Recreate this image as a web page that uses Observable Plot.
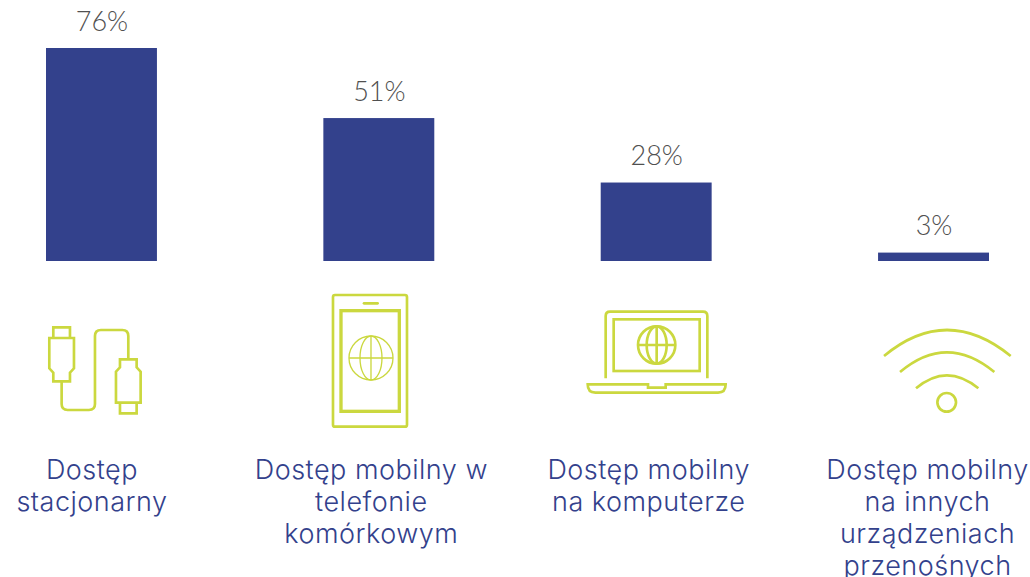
<!DOCTYPE html>
<html lang="pl">
<head>
<meta charset="utf-8">
<title>Dostęp do internetu</title>
<script src="https://cdn.jsdelivr.net/npm/d3@7"></script>
<script src="https://cdn.jsdelivr.net/npm/@observablehq/plot@0.6"></script>
<style>
  html, body { margin: 0; padding: 0; background: #fff; overflow: hidden; }
  svg { display: block; }
  .cat-label text { letter-spacing: 0.5px; }
</style>
</head>
<body>
<div id="chart"></div>
<script>
const categories = ["stacjonarny", "telefon", "komputer", "inne"];
const values = [76, 51, 28, 3];
const valueLabels = ["76%", "51%", "28%", "3%"];
const categoryLabels = [
  "Dostęp\nstacjonarny",
  "Dostęp mobilny w\ntelefonie\nkomórkowym",
  "Dostęp mobilny\nna komputerze",
  "Dostęp mobilny\nna innych\nurządzeniach\nprzenośnych"
];

const BLUE = "#33418c";
const GREEN = "#cbd83f";
const GREY = "#505050";
const FONT = "Lato, 'Open Sans', sans-serif";
const LABEL_FONT = "Inter, Lato, sans-serif";

const rows = categories.map((c, i) => ({c, v: values[i], lab: valueLabels[i], cat: categoryLabels[i]}));

// Icon outlines, drawn at one third scale and placed from the band scale.
const icons = {
  stacjonarny: {dx: -81.5, y: 280, svg: `
    <path stroke-width="8" d="M100 142H150V174H100Z M88 174H162V265L150 278V304H100V278L88 265Z"/>
    <path stroke-width="8" d="M125 304V372Q125 390 143 390H207Q225 390 225 372V168Q225 150 243 150H307Q325 150 325 168V238"/>
    <path stroke-width="8" d="M300 238H350V262L362 275V368H288V275L300 262Z M300 368H350V400H300Z"/>`},
  telefon: {dx: -358.5, y: 280, svg: `
    <rect stroke-width="8" x="938" y="45" width="222" height="395" rx="6"/>
    <path stroke-width="8" stroke-linecap="round" d="M1031 70H1072"/>
    <rect stroke-width="10" x="962" y="92" width="175" height="302"/>
    <g stroke-width="4"><circle cx="1052" cy="234" r="66"/><ellipse cx="1052" cy="234" rx="33" ry="66"/><path d="M986 234H1118M1052 168V300"/></g>`},
  komputer: {dx: -86.5, y: 290, svg: `
    <path stroke-width="8" d="M108 265V78Q108 65 121 65H400Q413 65 413 78V265"/>
    <rect stroke-width="8" x="132" y="88" width="258" height="155"/>
    <g stroke-width="8"><circle cx="261" cy="165" r="56"/><ellipse cx="261" cy="165" rx="30" ry="56"/><path d="M205 165H317M261 109V221"/></g>
    <path stroke-width="8" d="M54 283H235V293H288V283H468Q468 308 445 308H77Q54 308 54 283Z"/>`},
  inne: {dx: -363.5, y: 290, svg: `
    <path stroke-width="8" d="M942 198Q1130 42 1322 198M990 246Q1130 128 1273 246M1038 295Q1130 217 1225 295"/>
    <circle stroke-width="8" cx="1130" cy="337" r="28"/>`}
};

function iconMark(index, {x}) {
  const g = d3.create("svg:g").attr("fill", "none").attr("stroke", GREEN);
  for (const c of categories) {
    const icon = icons[c];
    g.append("g")
      .attr("transform", `translate(${x(c) + x.bandwidth() / 2 + icon.dx},${icon.y}) scale(${1 / 3})`)
      .html(icon.svg);
  }
  return g.node();
}

const labelOffsets = [-10, -8, -8, -6.5];

const chart = Plot.plot({
  width: 1030,
  height: 577,
  marginTop: 0, marginRight: 41, marginBottom: 0, marginLeft: 46,
  style: {background: "#fff", fontFamily: FONT},
  x: {domain: categories, paddingInner: 0.6, paddingOuter: 0, round: false, axis: null},
  y: {domain: [0, 76], range: [261, 48], axis: null},
  marks: [
    Plot.barY(rows, {x: "c", y: "v", fill: BLUE}),
    Plot.text(rows, {
      x: "c", y: "v", text: "lab", fill: GREY,
      fontSize: 27, fontWeight: 300, lineAnchor: "bottom", dy: -18
    }),
    iconMark,
    ...rows.map((r, i) => Plot.text([r], {
      x: "c", text: "cat", fill: BLUE, fontFamily: LABEL_FONT, fontSize: 27, fontWeight: 300,
      frameAnchor: "top", lineAnchor: "top", lineHeight: 1.185, dy: 456, dx: labelOffsets[i],
      className: "cat-label"
    }))
  ]
});
document.getElementById("chart").append(chart);
</script>
</body>
</html>
